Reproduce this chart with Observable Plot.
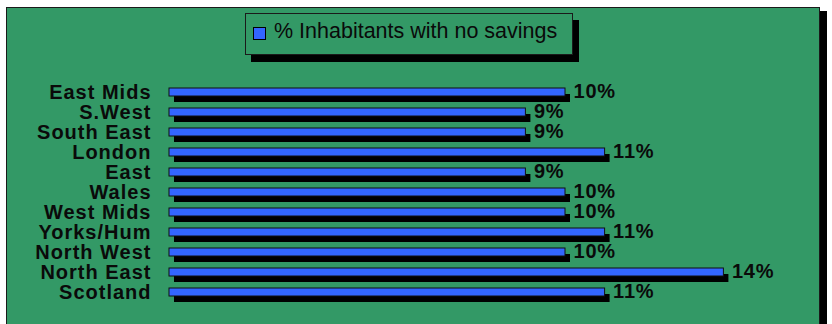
<!DOCTYPE html>
<html>
<head>
<meta charset="utf-8">
<script src="https://cdn.jsdelivr.net/npm/d3@7"></script>
<script src="https://cdn.jsdelivr.net/npm/@observablehq/plot@0.6"></script>
<style>
  html, body { margin: 0; padding: 0; background: #fff; }
  #wrap { position: relative; width: 832px; height: 324px; overflow: hidden; background: #fff;
          font-family: Arial, "Liberation Sans", sans-serif; }
  #frame { position: absolute; left: 6px; top: 7px; width: 812px; height: 340px;
           background: #339966; border: 1px solid #1a1a1a; box-shadow: 7px 4px 0 #000; }
  #legend { position: absolute; left: 245px; top: 13px; width: 326px; height: 40px;
            background: #339966; border: 1px solid #1a1a1a; box-shadow: 6px 7px 0 #000;
            z-index: 2; }
  #legend .sw { position: absolute; left: 7px; top: 13px; width: 11px; height: 11px;
                background: #3366ff; border: 1px solid #000; }
  #legend .lab { position: absolute; left: 28px; top: 4px; font-size: 21.5px; color: #0a0a0a;
                 white-space: nowrap; line-height: 26px; }
  #chart { position: absolute; left: 0; top: 0; z-index: 1; }
</style>
</head>
<body>
<div id="wrap">
  <div id="frame"></div>
  <div id="legend"><div class="sw"></div><div class="lab" id="legtext"></div></div>
  <div id="chart"></div>
</div>
<script>
const seriesName = "% Inhabitants with no savings";
const regions = ["East Mids", "S.West", "South East", "London", "East", "Wales",
                 "West Mids", "Yorks/Hum", "North West", "North East", "Scotland"];
const values = [10, 9, 9, 11, 9, 10, 10, 11, 10, 14, 11];
const barColor = "#3366ff";

const data = regions.map((r, i) => ({region: r, value: values[i]}));
document.getElementById("legtext").textContent = seriesName;

const chart = Plot.plot({
  width: 832,
  height: 324,
  marginLeft: 169,
  marginRight: 69,
  marginTop: 72,
  marginBottom: 13,
  style: {background: "transparent", fontFamily: "Arial, 'Liberation Sans', sans-serif", overflow: "visible"},
  x: {domain: [0, 15], axis: null},
  y: {domain: regions, padding: 0.61, label: null},
  marks: [
    Plot.barX(data, {x: "value", y: "region", fill: "#000", dx: 5, dy: 6}),
    Plot.barX(data, {x: "value", y: "region", fill: barColor, stroke: "#111", strokeWidth: 1}),
    Plot.text(data, {x: "value", y: "region", text: d => d.value + "%", textAnchor: "start",
                     dx: 8, dy: -1, fontSize: 20, fontWeight: "bold", fill: "#0a0a0a"}),
    Plot.axisY({tickSize: 0, tickPadding: 18, fontSize: 20, fontWeight: "bold", fill: "#0a0a0a", label: null})
  ]
});
chart.querySelectorAll("[aria-label='y-axis tick label'] text").forEach(t => t.style.letterSpacing = "1px");
chart.querySelectorAll("[aria-label='text'] text").forEach(t => t.style.letterSpacing = "0.8px");
document.getElementById("chart").appendChild(chart);
</script>
</body>
</html>
